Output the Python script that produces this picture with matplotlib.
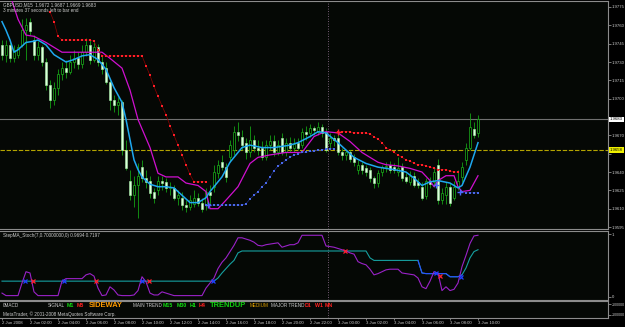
import numpy as np
import matplotlib
matplotlib.use("Agg")
import matplotlib.pyplot as plt

plt.rcParams["font.family"] = ["Liberation Sans", "DejaVu Sans"]

W, H = 625, 327

# ---- GBPUSD candles, one entry per bar ----
opens = [1.9744, 1.9736, 1.9744, 1.9733, 1.9736, 1.9744, 1.9756, 1.9763, 1.9748, 1.9736,
         1.9742, 1.9730, 1.9711, 1.9699, 1.9709, 1.9720, 1.9725, 1.9722, 1.9730, 1.9733,
         1.9728, 1.9738, 1.9744, 1.9732, 1.9742, 1.9730, 1.9725, 1.9714, 1.9699, 1.9695,
         1.9697, 1.9658, 1.9633, 1.9621, 1.9629, 1.9644, 1.9635, 1.9633, 1.9624, 1.9625,
         1.9633, 1.9632, 1.9627, 1.9627, 1.9619, 1.9619, 1.9613, 1.9611, 1.9614, 1.9619,
         1.9615, 1.9614, 1.9624, 1.9628, 1.9639, 1.9648, 1.9644, 1.9652, 1.9658, 1.9673,
         1.9669, 1.9664, 1.9656, 1.9666, 1.9660, 1.9660, 1.9652, 1.9662, 1.9665, 1.9656,
         1.9668, 1.9656, 1.9664, 1.9660, 1.9664, 1.9662, 1.9673, 1.9672, 1.9676, 1.9673,
         1.9677, 1.9673, 1.9664, 1.9668, 1.9668, 1.9656, 1.9654, 1.9656, 1.9652, 1.9642,
         1.9646, 1.9643, 1.9642, 1.9635, 1.9631, 1.9640, 1.9644, 1.9646, 1.9644, 1.9640,
         1.9644, 1.9636, 1.9632, 1.9637, 1.9632, 1.9628, 1.9620, 1.9633, 1.9632, 1.9646,
         1.9617, 1.9621, 1.9628, 1.9619, 1.9628, 1.9636, 1.9650, 1.9660, 1.9675, 1.9672]
highs = [1.9748, 1.9748, 1.9747, 1.9744, 1.9745, 1.9765, 1.9766, 1.9766, 1.9752, 1.9747,
         1.9744, 1.9733, 1.9715, 1.9714, 1.9724, 1.9730, 1.9732, 1.9736, 1.9740, 1.9738,
         1.9744, 1.9750, 1.9748, 1.9747, 1.9745, 1.9736, 1.9730, 1.9715, 1.9703, 1.9701,
         1.9699, 1.9666, 1.9642, 1.9637, 1.9647, 1.9650, 1.9642, 1.9637, 1.9627, 1.9637,
         1.9637, 1.9635, 1.9632, 1.9629, 1.9625, 1.9624, 1.9617, 1.9621, 1.9625, 1.9623,
         1.9619, 1.9627, 1.9629, 1.9646, 1.9650, 1.9654, 1.9647, 1.9666, 1.9678, 1.9681,
         1.9674, 1.9668, 1.9678, 1.9670, 1.9666, 1.9665, 1.9666, 1.9670, 1.9670, 1.9666,
         1.9672, 1.9668, 1.9669, 1.9668, 1.9668, 1.9676, 1.9678, 1.9679, 1.9678, 1.9681,
         1.9679, 1.9676, 1.9672, 1.9670, 1.9672, 1.9660, 1.9658, 1.9658, 1.9655, 1.9650,
         1.9648, 1.9646, 1.9644, 1.9637, 1.9642, 1.9646, 1.9648, 1.9649, 1.9647, 1.9652,
         1.9647, 1.9639, 1.9641, 1.9640, 1.9635, 1.9632, 1.9635, 1.9636, 1.9643, 1.9651,
         1.9627, 1.9632, 1.9631, 1.9633, 1.9642, 1.9648, 1.9664, 1.9688, 1.9681, 1.9687]
lows = [1.9732, 1.9730, 1.9730, 1.9730, 1.9733, 1.9742, 1.9732, 1.9752, 1.9732, 1.9732,
        1.9727, 1.9707, 1.9692, 1.9695, 1.9703, 1.9715, 1.9717, 1.9720, 1.9725, 1.9724,
        1.9725, 1.9735, 1.9728, 1.9730, 1.9727, 1.9720, 1.9712, 1.9691, 1.9689, 1.9687,
        1.9654, 1.9642, 1.9617, 1.9611, 1.9602, 1.9632, 1.9627, 1.9619, 1.9615, 1.9621,
        1.9625, 1.9624, 1.9621, 1.9617, 1.9613, 1.9609, 1.9607, 1.9609, 1.9611, 1.9612,
        1.9607, 1.9609, 1.9613, 1.9624, 1.9635, 1.9642, 1.9632, 1.9648, 1.9654, 1.9665,
        1.9658, 1.9651, 1.9652, 1.9656, 1.9654, 1.9650, 1.9650, 1.9658, 1.9653, 1.9654,
        1.9654, 1.9653, 1.9656, 1.9656, 1.9658, 1.9660, 1.9666, 1.9669, 1.9670, 1.9670,
        1.9669, 1.9656, 1.9660, 1.9661, 1.9654, 1.9650, 1.9650, 1.9648, 1.9645, 1.9638,
        1.9638, 1.9637, 1.9632, 1.9627, 1.9628, 1.9637, 1.9640, 1.9639, 1.9639, 1.9637,
        1.9633, 1.9631, 1.9629, 1.9628, 1.9627, 1.9617, 1.9618, 1.9627, 1.9628, 1.9614,
        1.9614, 1.9614, 1.9612, 1.9617, 1.9625, 1.9632, 1.9646, 1.9658, 1.9668, 1.9669]
closes = [1.9736, 1.9744, 1.9733, 1.9740, 1.9742, 1.9756, 1.9760, 1.9755, 1.9736, 1.9742,
          1.9730, 1.9711, 1.9699, 1.9709, 1.9720, 1.9725, 1.9722, 1.9730, 1.9733, 1.9728,
          1.9738, 1.9744, 1.9732, 1.9742, 1.9730, 1.9724, 1.9714, 1.9699, 1.9695, 1.9697,
          1.9658, 1.9643, 1.9621, 1.9629, 1.9637, 1.9635, 1.9632, 1.9623, 1.9619, 1.9633,
          1.9631, 1.9627, 1.9628, 1.9619, 1.9621, 1.9613, 1.9611, 1.9617, 1.9619, 1.9615,
          1.9610, 1.9624, 1.9621, 1.9640, 1.9646, 1.9644, 1.9636, 1.9662, 1.9673, 1.9670,
          1.9662, 1.9656, 1.9666, 1.9660, 1.9658, 1.9652, 1.9662, 1.9665, 1.9656, 1.9662,
          1.9656, 1.9664, 1.9660, 1.9663, 1.9660, 1.9673, 1.9671, 1.9676, 1.9674, 1.9677,
          1.9672, 1.9658, 1.9668, 1.9666, 1.9656, 1.9654, 1.9656, 1.9651, 1.9648, 1.9646,
          1.9642, 1.9640, 1.9635, 1.9631, 1.9639, 1.9644, 1.9645, 1.9642, 1.9642, 1.9643,
          1.9635, 1.9633, 1.9637, 1.9629, 1.9629, 1.9619, 1.9633, 1.9630, 1.9640, 1.9617,
          1.9623, 1.9628, 1.9615, 1.9628, 1.9633, 1.9644, 1.9660, 1.9677, 1.9670, 1.9683]

# moving averages (bar index, value)
fast_bars = [0, 1, 2, 3, 4, 5, 6, 8, 9, 11, 13, 16, 18, 20, 22, 24, 26, 28, 30, 31,
             33, 34, 35, 37, 39, 41, 43, 45, 47, 49, 51, 52, 55, 57, 60, 62, 65, 68, 72, 74,
             77, 79, 81, 84, 88, 91, 94, 98, 101, 103, 105, 107, 109, 112, 114, 115, 117, 119]
fast_vals = [1.9763, 1.9756, 1.9748, 1.9738, 1.9740, 1.9743, 1.9746, 1.9747, 1.9748, 1.9744,
             1.9736, 1.9730, 1.9732, 1.9735, 1.9736, 1.9732, 1.9724, 1.9709, 1.9697, 1.9683,
             1.9650, 1.9642, 1.9636, 1.9630, 1.9628, 1.9628, 1.9627, 1.9621, 1.9615, 1.9615,
             1.9619, 1.9624, 1.9636, 1.9648, 1.9660, 1.9662, 1.9660, 1.9660, 1.9662, 1.9664,
             1.9669, 1.9673, 1.9672, 1.9664, 1.9652, 1.9647, 1.9644, 1.9642, 1.9640, 1.9635,
             1.9629, 1.9632, 1.9633, 1.9631, 1.9627, 1.9629, 1.9644, 1.9664]
slow_bars = [0, 2, 3, 4, 6, 8, 11, 15, 20, 25, 27, 30, 32, 34, 37, 39, 41, 44, 46, 49,
             51, 52, 54, 56, 59, 62, 64, 67, 71, 75, 78, 80, 81, 84, 87, 90, 94, 96, 99, 102,
             105, 107, 108, 109, 111, 113, 114, 115, 117, 118, 119]
slow_vals = [1.9801, 1.9785, 1.9775, 1.9765, 1.9752, 1.9751, 1.9746, 1.9738, 1.9738, 1.9738,
             1.9733, 1.9725, 1.9707, 1.9683, 1.9660, 1.9639, 1.9636, 1.9636, 1.9631, 1.9629,
             1.9624, 1.9610, 1.9610, 1.9617, 1.9628, 1.9647, 1.9652, 1.9654, 1.9656, 1.9656,
             1.9669, 1.9672, 1.9673, 1.9672, 1.9665, 1.9656, 1.9648, 1.9646, 1.9645, 1.9643,
             1.9640, 1.9633, 1.9628, 1.9633, 1.9637, 1.9637, 1.9628, 1.9624, 1.9625, 1.9631,
             1.9637]

# trailing stop dots
red1_start = 12
red1_vals = [1.9771, 1.9763, 1.9751, 1.9748, 1.9748, 1.9748, 1.9748, 1.9748, 1.9748, 1.9748,
             1.9748, 1.9747, 1.9740, 1.9735, 1.9735, 1.9735, 1.9735, 1.9735, 1.9735, 1.9735,
             1.9735, 1.9735, 1.9735, 1.9735, 1.9727, 1.9719, 1.9710, 1.9702, 1.9694, 1.9687,
             1.9678, 1.9670, 1.9662, 1.9654, 1.9646, 1.9638, 1.9632, 1.9632, 1.9632, 1.9632]
red2_start = 84
red2_vals = [1.9673, 1.9673, 1.9673, 1.9673, 1.9672, 1.9672, 1.9672, 1.9672, 1.9671, 1.9669,
             1.9667, 1.9664, 1.9660, 1.9658, 1.9656, 1.9654, 1.9652, 1.9650, 1.9649, 1.9647,
             1.9646, 1.9646, 1.9645, 1.9644, 1.9643, 1.9642, 1.9642, 1.9642, 1.9641, 1.9640,
             1.9640]
blue1_start = 51
blue1_vals = [1.9613, 1.9613, 1.9613, 1.9613, 1.9613, 1.9613, 1.9613, 1.9613, 1.9613, 1.9613,
              1.9614, 1.9618, 1.9621, 1.9624, 1.9628, 1.9631, 1.9636, 1.9641, 1.9645, 1.9647,
              1.9650, 1.9652, 1.9654, 1.9655, 1.9656, 1.9656, 1.9657, 1.9657, 1.9658, 1.9658,
              1.9659, 1.9659, 1.9659]
blue2_start = 115
blue2_vals = [1.9624, 1.9623, 1.9623, 1.9623, 1.9623]

sell_cross_bars, sell_cross_vals = [84], [1.9673]
buy_cross_bars, buy_cross_vals = [51.5, 108.5, 114.5], [1.9613, 1.9629, 1.9624]

bid_price = 1.9683
yellow_level = 1.9658
price_ticks = [1.9595, 1.9610, 1.9625, 1.9640, 1.9655, 1.9670, 1.9685,
               1.9700, 1.9715, 1.9730, 1.9745, 1.9760, 1.9775]
hidden_ticks = [1.9685, 1.9655]   # covered by the price boxes
separator_bar = 81.5

# StepMA_Stoch indicator
stoch_vals = [0.06, 0.02, 0.02, 0.02, 0.02, 0.22, 0.40, 0.38, 0.08, 0.02,
              0.02, 0.02, 0.02, 0.02, 0.02, 0.25, 0.29, 0.29, 0.29, 0.29,
              0.29, 0.35, 0.37, 0.33, 0.14, 0.02, 0.03, 0.16, 0.11, 0.03,
              0.02, 0.02, 0.02, 0.03, 0.10, 0.32, 0.24, 0.06, 0.03, 0.03,
              0.08, 0.06, 0.04, 0.02, 0.02, 0.02, 0.02, 0.02, 0.02, 0.02,
              0.02, 0.14, 0.22, 0.30, 0.45, 0.55, 0.62, 0.72, 0.82, 0.94,
              0.94, 0.92, 0.90, 0.87, 0.82, 0.81, 0.83, 0.84, 0.85, 0.86,
              0.79, 0.81, 0.83, 0.83, 0.86, 0.98, 0.98, 0.98, 0.98, 0.98,
              0.98, 0.81, 0.80, 0.79, 0.77, 0.75, 0.73, 0.70, 0.68, 0.56,
              0.53, 0.51, 0.44, 0.35, 0.37, 0.40, 0.43, 0.44, 0.44, 0.44,
              0.38, 0.37, 0.36, 0.35, 0.30, 0.16, 0.13, 0.25, 0.40, 0.38,
              0.10, 0.16, 0.10, 0.12, 0.22, 0.48, 0.66, 0.85, 0.97, 0.98]
step_vals = [0.25, 0.25, 0.25, 0.25, 0.25, 0.25, 0.25, 0.25, 0.25, 0.25,
             0.25, 0.25, 0.25, 0.25, 0.25, 0.25, 0.25, 0.25, 0.25, 0.25,
             0.25, 0.25, 0.25, 0.25, 0.25, 0.25, 0.25, 0.25, 0.25, 0.25,
             0.25, 0.25, 0.25, 0.25, 0.25, 0.25, 0.25, 0.25, 0.25, 0.25,
             0.25, 0.25, 0.25, 0.25, 0.25, 0.25, 0.25, 0.25, 0.25, 0.25,
             0.25, 0.25, 0.25, 0.25, 0.30, 0.38, 0.45, 0.52, 0.58, 0.70,
             0.73, 0.73, 0.73, 0.73, 0.73, 0.73, 0.73, 0.73, 0.73, 0.73,
             0.73, 0.73, 0.73, 0.73, 0.73, 0.73, 0.73, 0.73, 0.73, 0.73,
             0.73, 0.73, 0.73, 0.73, 0.73, 0.73, 0.73, 0.73, 0.73, 0.73,
             0.73, 0.73, 0.62, 0.58, 0.58, 0.58, 0.58, 0.58, 0.58, 0.58,
             0.58, 0.58, 0.58, 0.58, 0.58, 0.38, 0.37, 0.37, 0.37, 0.37,
             0.37, 0.37, 0.32, 0.32, 0.32, 0.35, 0.46, 0.62, 0.72, 0.75]
up_x_bars, up_x_vals = [5.75, 15.5, 35.0, 52.75, 108.5, 114.75], [0.25, 0.25, 0.25, 0.25, 0.38, 0.32]
dn_x_bars, dn_x_vals = [7.75, 23.5, 36.75, 85.75, 109.5], [0.25, 0.25, 0.25, 0.73, 0.33]

date_labels = ["2 Jun 2008", "2 Jun 02:00", "2 Jun 04:00", "2 Jun 06:00", "2 Jun 08:00",
               "2 Jun 10:00", "2 Jun 12:00", "2 Jun 14:00", "2 Jun 16:00", "2 Jun 18:00",
               "2 Jun 20:00", "2 Jun 22:00", "3 Jun 00:00", "3 Jun 02:00", "3 Jun 04:00",
               "3 Jun 06:00", "3 Jun 08:00", "3 Jun 10:00"]
date_bars = [0, 7, 14, 21, 28, 35, 42, 49, 56, 63, 70, 77, 84, 91, 98, 105, 112, 119]

BG = "#050805"
FRAME = "#8c8c8c"
TXT = "#cccccc"
SMALL = 3.3


def box(top, bottom, left=0, right=608):
    return [left / W, 1 - bottom / H, (right - left) / W, (bottom - top) / H]


def style(a):
    a.set_facecolor(BG)
    for sp in a.spines.values():
        sp.set_color(FRAME)
        sp.set_linewidth(0.8)
    a.spines["left"].set_visible(False)
    a.set_xlim(-0.5, 151.5)
    a.set_xticks([])
    a.yaxis.tick_right()
    a.tick_params(axis="y", colors=FRAME, length=2, width=0.6, pad=0.8,
                  labelsize=3.1, labelcolor=TXT)


fig = plt.figure(figsize=(W / 100, H / 100), dpi=100, facecolor="black")
ax = fig.add_axes(box(1, 229))
ax_ind = fig.add_axes(box(231, 300))
ax_sig = fig.add_axes(box(301, 318))
for a in (ax, ax_ind, ax_sig):
    style(a)

# ---------- main price panel ----------
ax.set_ylim(1.95934, 1.97799)
ax.set_yticks(price_ticks)
ax.set_yticklabels(["" if p in hidden_ticks else f"{p:.4f}" for p in price_ticks])

ax.axhline(bid_price, color="#707070", lw=0.8, zorder=1)
ax.axhline(yellow_level, color="#b4a400", lw=0.8, ls=(0, (4, 1.5)), zorder=1)
for a in (ax, ax_ind, ax_sig):
    a.axvline(separator_bar, color="#9a7a9a", lw=0.6, ls=(0, (1, 2)), zorder=1)

xb = np.arange(len(closes))
o = np.array(opens)
c = np.array(closes)
up = c >= o
ax.vlines(xb, lows, highs, color="#14a014", lw=0.6, zorder=2)
body_lo = np.minimum(o, c)
body_h = np.maximum(np.abs(c - o), 0.00002)
ax.bar(xb[up], body_h[up], bottom=body_lo[up], width=0.62, color="black",
       edgecolor="#1cb41c", linewidth=0.5, zorder=3)
ax.bar(xb[~up], body_h[~up], bottom=body_lo[~up], width=0.62, color="#dcffdc",
       edgecolor="#a8f0a8", linewidth=0.4, zorder=3)

ax.plot(slow_bars, slow_vals, color="#d010d0", lw=0.9, zorder=4)
ax.plot(fast_bars, fast_vals, color="#1ea8f0", lw=1.1, zorder=5)

for start, vals, lc, mc in ((red1_start, red1_vals, "#8a0000", "#ff1e28"),
                            (red2_start, red2_vals, "#8a0000", "#ff1e28"),
                            (blue1_start, blue1_vals, "#1a2a80", "#4a68e8"),
                            (blue2_start, blue2_vals, "#1a2a80", "#4a68e8")):
    bars = np.arange(start, start + len(vals))
    ax.plot(bars, vals, color=lc, lw=0.5, zorder=4)
    ax.plot(bars, vals, ls="none", marker="s", ms=1.5, mew=0, color=mc, zorder=6)

ax.plot(sell_cross_bars, sell_cross_vals, ls="none", marker="+", ms=5, mew=1.0,
        color="#ff2030", zorder=7)
ax.plot(buy_cross_bars, buy_cross_vals, ls="none", marker="+", ms=5, mew=1.0,
        color="#4a68ff", zorder=7)

# price boxes on the right scale
for price, fc in ((bid_price, "white"), (yellow_level, "#f0f000")):
    ax.text(1.003, price, f"{price:.4f}", transform=ax.get_yaxis_transform(),
            fontsize=3.1, color="black", va="center", ha="left", clip_on=False,
            bbox=dict(boxstyle="square,pad=0.2", fc=fc, ec="none"), zorder=10)

fig.text(3 / W, 1 - 4.5 / H, "GBPUSD,M15  1.9672 1.9687 1.9669 1.9683",
         fontsize=SMALL, color=TXT, va="center")
fig.text(3 / W, 1 - 10.5 / H, "3 minutes 37 seconds left to bar end",
         fontsize=SMALL, color=TXT, va="center")

# ---------- StepMA_Stoch panel ----------
ax_ind.set_ylim(-0.05, 1.048)
ax_ind.set_yticks([0, 1])
ax_ind.set_yticklabels(["0", "1"])
ax_ind.plot(xb, step_vals, color="#16a0a0", lw=0.8, zorder=3)
ax_ind.plot(xb[104:116], step_vals[104:116], color="#2a50ff", lw=0.8, zorder=3)
ax_ind.plot(xb, stoch_vals, color="#9a22c8", lw=0.8, zorder=4)
ax_ind.plot(up_x_bars, up_x_vals, ls="none", marker="x", ms=3.2, mew=0.9,
            color="#2040ff", zorder=5)
ax_ind.plot(dn_x_bars, dn_x_vals, ls="none", marker="x", ms=3.2, mew=0.9,
            color="#ff2030", zorder=5)
ax_ind.text(0.005, 0.93, "StepMA_Stoch(7,0.70000000,0) 0.9694 0.7197",
            transform=ax_ind.transAxes, fontsize=SMALL, color=TXT, va="center")

# ---------- signal panel ----------
ax_sig.set_ylim(0, 1)
ax_sig.set_yticks([0.8, 0.2])
ax_sig.set_yticklabels(["-100000", "-100000"])
ax_sig.tick_params(axis="y", labelsize=2.5, pad=0.5)
signal_texts = [(3, "0MACD", TXT, SMALL, "normal"), (48, "SIGNAL", TXT, SMALL, "normal"),
                (67, "M1", "#10e010", 3.8, "bold"), (77, "M5", "#ff2020", 3.8, "bold"),
                (89, "SIDEWAY", "#ff9a00", 5.4, "bold"), (133, "MAIN TREND", TXT, SMALL, "normal"),
                (163, "M15", "#10e010", 3.8, "bold"), (177, "M30", "#10e010", 3.8, "bold"),
                (190, "H1", "#10e010", 3.8, "bold"), (199, "H4", "#ff2020", 3.8, "bold"),
                (210, "TRENDUP", "#10d010", 5.4, "bold"), (250, "MEDIUM", "#e0a000", SMALL, "normal"),
                (271, "MAJOR TREND", TXT, SMALL, "normal"), (305, "D1", "#ff2020", 3.8, "bold"),
                (315, "W1", "#ff2020", 3.8, "bold"), (325, "MN", "#ff2020", 3.8, "bold")]
for px, s, col, fs, fw in signal_texts:
    fig.text(px / W, 1 - 305.5 / H, s, fontsize=fs, color=col, fontweight=fw, va="center")
fig.text(3 / W, 1 - 314 / H, "MetaTrader, \u00a9 2001-2008 MetaQuotes Software Corp.",
         fontsize=SMALL, color=TXT, va="center")

ax_sig.set_xticks(date_bars)
ax_sig.set_xticklabels(date_labels)
ax_sig.tick_params(axis="x", colors=FRAME, length=1.5, width=0.6, pad=0.3,
                   labelsize=3.1, labelcolor=TXT)
for lbl in ax_sig.get_xticklabels():
    lbl.set_ha("left")

fig.savefig("out.png", dpi=100, facecolor="black")
